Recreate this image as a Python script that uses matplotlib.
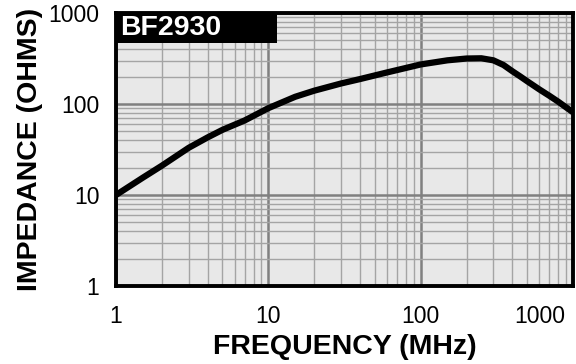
import matplotlib.pyplot as plt
import matplotlib.transforms as mtransforms
from matplotlib.patches import Rectangle
from matplotlib.ticker import LogLocator, FixedLocator, NullFormatter

plt.rcParams["font.family"] = ["Liberation Sans", "DejaVu Sans"]

# impedance curve
freq_mhz = [1, 1.5, 2, 3, 4, 5, 7, 10, 15, 20, 30, 40, 60, 100, 150, 200,
            250, 300, 350, 400, 450, 500, 600, 700, 800, 1000]
impedance = [10, 15.5, 21, 33, 43, 52, 66, 90, 120, 140, 168, 188, 222, 272,
             302, 316, 318, 302, 268, 229, 201, 178, 145, 123, 106, 81]

x_ticks = [1, 10, 100, 1000]
x_tick_labels = ["1", "10", "100", "1000"]
y_ticks = [1, 10, 100, 1000]
y_tick_labels = ["1", "10", "100", "1000"]
part_name = "BF2930"

fig = plt.figure(figsize=(5.76, 3.64), dpi=100)
ax = fig.add_axes([0.2014, 0.2143, 0.7934, 0.75])
ax.set_facecolor("#e8e8e8")

ax.set_xscale("log")
ax.set_yscale("log")
ax.set_xlim(1, 1000)
ax.set_ylim(1, 1000)

ax.xaxis.set_major_locator(FixedLocator(x_ticks))
ax.yaxis.set_major_locator(FixedLocator(y_ticks))
ax.xaxis.set_minor_locator(LogLocator(base=10, subs=range(2, 10)))
ax.yaxis.set_minor_locator(LogLocator(base=10, subs=range(2, 10)))
ax.xaxis.set_minor_formatter(NullFormatter())
ax.yaxis.set_minor_formatter(NullFormatter())
ax.set_xticklabels(x_tick_labels)
ax.set_yticklabels(y_tick_labels)

ax.grid(True, which="major", color="#808080", linewidth=1.8)
ax.grid(True, which="minor", color="#a4a4a4", linewidth=1.0)
ax.set_axisbelow(True)

ax.tick_params(which="both", length=0)
ax.tick_params(axis="x", labelsize=16.5, pad=14)
ax.tick_params(axis="y", labelsize=16.5, pad=12)

# last x label sits inside the right edge, like the reference
last = ax.get_xticklabels()[-1]
last.set_horizontalalignment("right")
last.set_transform(last.get_transform() +
                   mtransforms.ScaledTranslation(-8 / 100, 0, fig.dpi_scale_trans))

for s in ax.spines.values():
    s.set_linewidth(2.8)
    s.set_color("black")

ax.plot(freq_mhz, impedance, color="black", linewidth=4.5,
        solid_capstyle="butt", solid_joinstyle="round", zorder=3)

# black name tag in the top-left corner
ax.add_patch(Rectangle((0, 0.89), 0.352, 0.11, transform=ax.transAxes,
                       facecolor="black", edgecolor="none", zorder=4))
ax.text(0.008, 0.945, part_name, transform=ax.transAxes, ha="left", va="center",
        fontsize=20.5, fontweight="bold", color="white", zorder=5)

ax.set_xlabel("FREQUENCY (MHz)", fontsize=20.5, fontweight="bold", labelpad=4)
ax.set_ylabel("IMPEDANCE (OHMS)", fontsize=20.5, fontweight="bold", labelpad=4)

fig.savefig("out.png", dpi=100)
